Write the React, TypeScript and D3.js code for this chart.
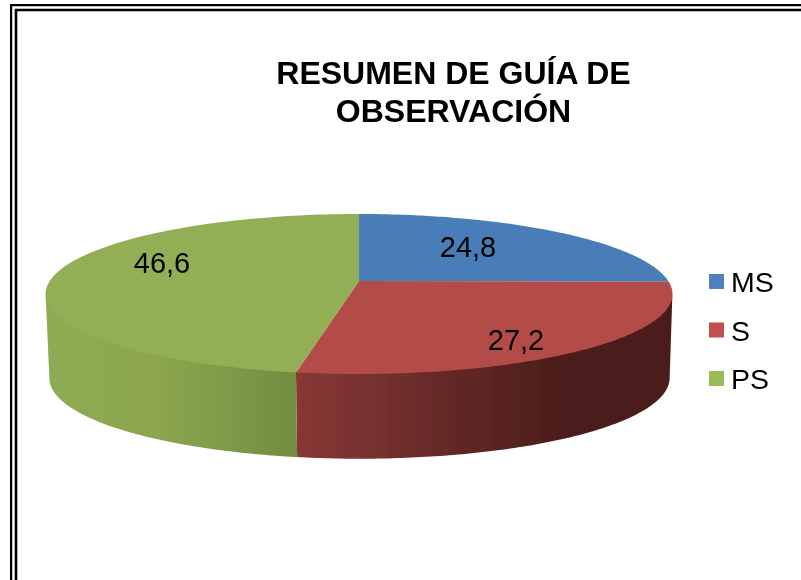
import React from "react";
import * as d3 from "d3";

const categories = ["MS", "S", "PS"];
const values = [24.8, 27.2, 46.6];
const valueLabels = ["24,8", "27,2", "46,6"];
const titleLines = ["RESUMEN DE GUÍA DE", "OBSERVACIÓN"];

const topColors = ["#4A7DB8", "#B34C49", "#93AF56"];
const legendColors = ["#4F81BD", "#C0504D", "#9BBB59"];
const wallStops = [
  null,
  [["0%", "#883735"], ["28%", "#702E2C"], ["55%", "#572321"], ["73%", "#4C1D1C"], ["100%", "#4C1C1B"]],
  [["0%", "#8FAB52"], ["45%", "#8BA64F"], ["100%", "#738D40"]],
];
const wallGrad = [null, [296, 672], [48, 296]];
const labelAt = [[468, 247], [516, 340], [162, 263]];

const FONT = "'Liberation Sans', Arial, sans-serif";
const K = -0.1625;
const top = { cx: 359, cy: 281, a: 309.3, b: 77.9 };
const topTucked = { cx: 359, cy: 279.5, a: 309.3, b: 77.9 };
const bottom = { cx: 359.5, cy: 365, a: 306, b: 78.5 };
const project = (t: { cx: number; cy: number; a: number; b: number }, ang: number): [number, number] => {
  const u = Math.sin(ang);
  const v = -Math.cos(ang);
  const w = 1 + K * v;
  return [t.cx + (t.a * u) / w, t.cy + (t.b * v) / w];
};

const pie = d3.pie<number>().sort(null).value((d) => d);
const arcs = pie(values);
const sampled = (start: number, end: number) => d3.range(0, 121).map((i) => start + ((end - start) * i) / 120);
const line = d3.line();

// rim angles where the visible side of the disc begins and ends
const frontStart = Math.PI - Math.acos(-K);
const frontEnd = Math.PI + Math.acos(-K);

export default function App() {
  return (
    <svg width={801} height={580} style={{ position: "fixed", left: 0, top: 0, background: "#fff" }}>
      <defs>
        <filter id="soft" x="0" y="0" width="100%" height="100%">
          <feGaussianBlur stdDeviation="0.45" />
        </filter>
        {arcs.map((_, i) =>
          wallStops[i] ? (
            <linearGradient key={i} id={`wall${i}`} gradientUnits="userSpaceOnUse" x1={wallGrad[i]![0]} x2={wallGrad[i]![1]} y1={0} y2={0}>
              {wallStops[i]!.map(([o, c]) => (
                <stop key={o} offset={o} stopColor={c} />
              ))}
            </linearGradient>
          ) : null
        )}
      </defs>
      <g filter="url(#soft)">
        <path d="M801 4.8H10.8V580" fill="none" stroke="#000" strokeWidth={2.8} />
        <path d="M801 10H16V580" fill="none" stroke="#000" strokeWidth={2.6} />

        {titleLines.map((t, i) => (
          <text key={t} x={453.5} y={84 + i * 38} textAnchor="middle" fontFamily={FONT} fontWeight="bold" fontSize={32} fill="#000">
            {t}
          </text>
        ))}

        {arcs.map((d, i) => {
          const s = Math.max(d.startAngle, frontStart);
          const e = Math.min(d.endAngle, frontEnd);
          if (e <= s) return null;
          const pts = sampled(s, e);
          const poly = [...pts.map((a) => project(topTucked, a)), ...pts.slice().reverse().map((a) => project(bottom, a))];
          return <path key={i} d={line(poly)! + "Z"} fill={`url(#wall${i})`} />;
        })}
        {arcs.map((d, i) => {
          const poly: [number, number][] = [[top.cx, top.cy], ...sampled(d.startAngle, d.endAngle).map((a) => project(top, a))];
          return <path key={i} d={line(poly)! + "Z"} fill={topColors[i]} />;
        })}

        {valueLabels.map((t, i) => (
          <text key={t} x={labelAt[i][0]} y={labelAt[i][1]} dy="0.35em" textAnchor="middle" fontFamily={FONT} fontSize={29} fill="#000">
            {t}
          </text>
        ))}

        {categories.map((c, i) => (
          <g key={c} transform={`translate(709,${274 + i * 48.5})`}>
            <rect width={15} height={15} fill={legendColors[i]} />
            <text x={22} y={18} fontFamily={FONT} fontSize={28.5} fill="#000">
              {c}
            </text>
          </g>
        ))}
      </g>
    </svg>
  );
}
